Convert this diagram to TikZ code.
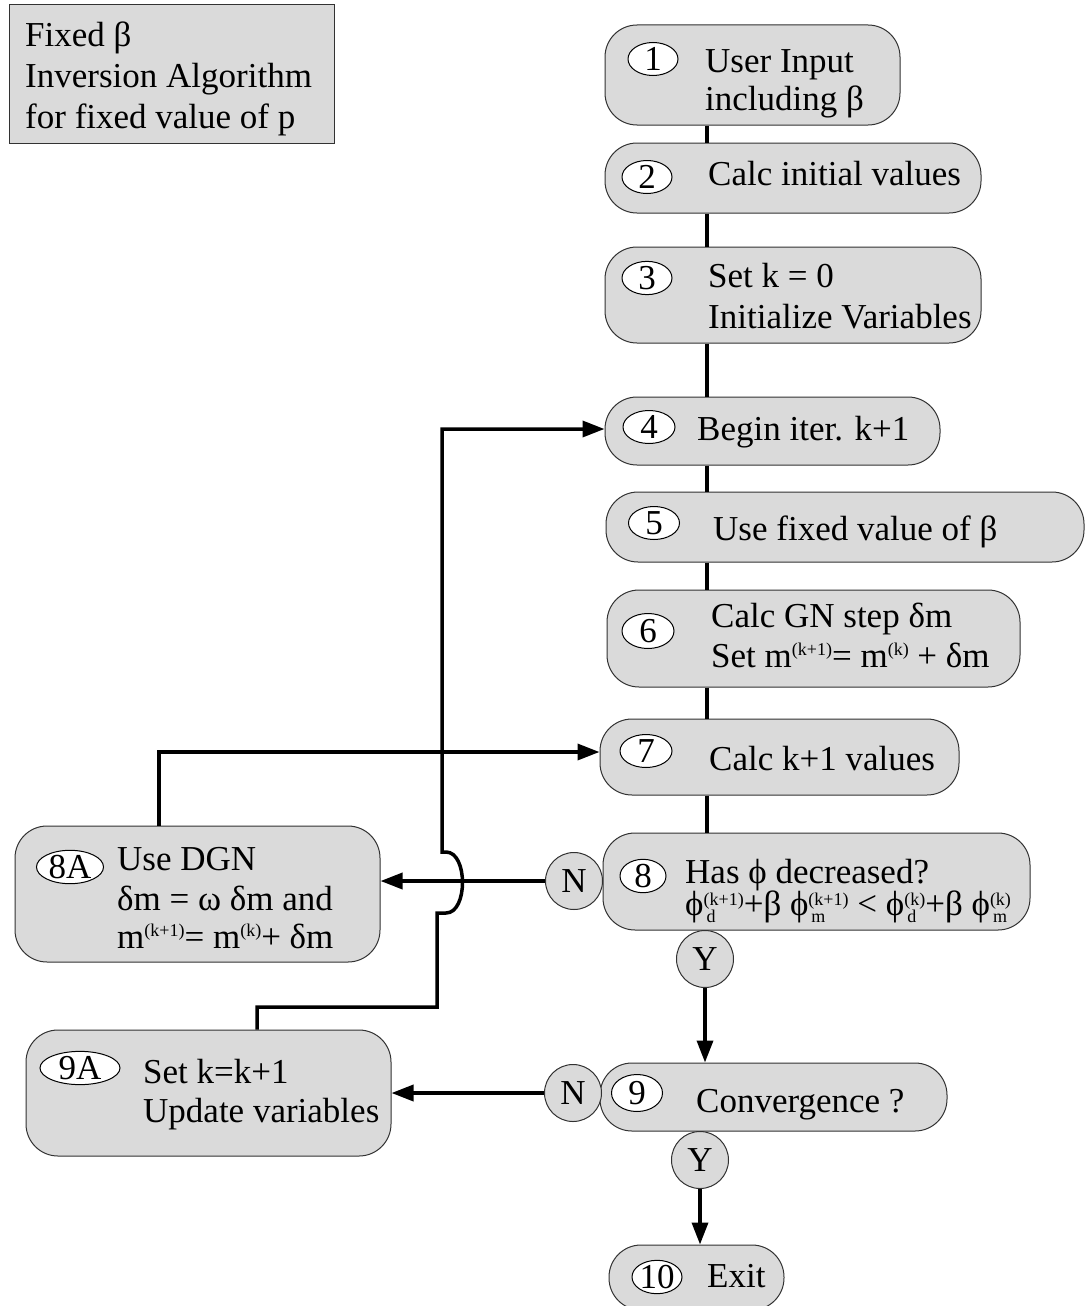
\documentclass[tikz,border=0pt]{standalone}
\usepackage{fontspec}
\setmainfont{Liberation Serif}
\usetikzlibrary{arrows.meta,shapes.geometric}
\definecolor{boxgray}{RGB}{218,218,218}
\definecolor{edgegray}{RGB}{50,50,50}
\newcommand{\smf}[1]{{\fontsize{18}{18}\selectfont #1}}
\newcommand{\sps}[1]{\raisebox{12pt}{\smf{#1}}}
\newcommand{\spsb}[2]{\makebox[0pt][l]{\hspace{3pt}\raisebox{-7pt}{\smf{#2}}}\raisebox{10pt}{\smf{#1}}}
\begin{document}
\begin{tikzpicture}[x=1pt,y=-1pt,
  every node/.style={font=\fontsize{35}{40}\selectfont},
  box/.style={draw=edgegray, fill=boxgray, line width=1pt, rounded corners=32pt, inner sep=0pt},
  titlebox/.style={draw=edgegray, fill=boxgray, line width=1pt, inner sep=0pt},
  tag/.style={ellipse, draw=black, fill=white, line width=1pt, inner sep=0pt},
  yn/.style={circle, draw=edgegray, fill=boxgray, line width=1pt, inner sep=0pt, minimum size=57pt},
  txt/.style={anchor=base west, inner sep=0pt},
  conn/.style={line width=3.5pt},
  arr/.style={line width=3.5pt, -{Triangle[length=22pt,width=16pt]}}]
\fill[white] (0,0) rectangle (1085,1306);
\useasboundingbox (0,0) rectangle (1085,1306);

% title
\node[titlebox, minimum width=325pt, minimum height=138pt] (title) at (171.5,74) {};
\node[txt] (ta) at (25,47) {Fixed β};
\node[txt] (tb) at (25,88) {Inversion Algorithm};
\node[txt] (tc) at (25,128) {for fixed value of p};

% boxes
\node[box, minimum width=295pt, minimum height=100pt] (b1) at (752.5,75) {};
\node[box, minimum width=376pt, minimum height=70pt] (b2) at (793,178) {};
\node[box, minimum width=376pt, minimum height=96pt] (b3) at (793,295) {};
\node[box, minimum width=335pt, minimum height=68pt] (b4) at (772.5,431) {};
\node[box, minimum width=478pt, minimum height=70pt] (b5) at (845,527) {};
\node[box, minimum width=413pt, minimum height=97pt] (b6) at (813.5,638.5) {};
\node[box, minimum width=359pt, minimum height=76pt] (b7) at (779.5,757) {};
\node[box, minimum width=427pt, minimum height=97pt] (b8) at (816.5,881.5) {};
\node[box, minimum width=365pt, minimum height=136pt] (b8A) at (197.5,894) {};
\node[box, minimum width=347pt, minimum height=68pt] (b9) at (773.5,1097) {};
\node[box, minimum width=365pt, minimum height=126pt] (b9A) at (208.5,1093) {};
\node[box, minimum width=175pt, minimum height=65pt] (b10) at (696.5,1277.5) {};

% tags
\node[tag, minimum width=50pt, minimum height=33pt] (e1) at (653,59) {1};
\node[tag, minimum width=50pt, minimum height=33pt] (e2) at (647,177) {2};
\node[tag, minimum width=50pt, minimum height=33pt] (e3) at (647,278) {3};
\node[tag, minimum width=52pt, minimum height=33pt] (e4) at (649,427) {4};
\node[tag, minimum width=51pt, minimum height=33pt] (e5) at (654,523) {5};
\node[tag, minimum width=52pt, minimum height=35pt] (e6) at (648,631) {6};
\node[tag, minimum width=52pt, minimum height=33pt] (e7) at (646,751) {7};
\node[tag, minimum width=46pt, minimum height=33pt] (e8) at (643,876) {8};
\node[tag, minimum width=67pt, minimum height=30pt] (e8A) at (70,867) {8A};
\node[tag, minimum width=51pt, minimum height=37pt] (e9) at (637,1093) {9};
\node[tag, minimum width=80pt, minimum height=30pt] (e9A) at (80,1068) {9A};
\node[tag, minimum width=50pt, minimum height=33pt] (e10) at (657,1277) {10};

% texts
\node[txt] (t1a) at (705,72) {User Input};
\node[txt] (t1b) at (705,110) {including β};
\node[txt] (t2) at (708,185) {Calc initial values};
\node[txt] (t3a) at (708,287) {Set k = 0};
\node[txt] (t3b) at (708,328) {Initialize Variables};
\node[txt] (t4) at (697,440) {Begin iter. k+1};
\node[txt] (t5) at (713,540) {Use fixed value of β};
\node[txt] (t6a) at (711,627) {Calc GN step δm};
\node[txt] (t6b) at (711,667) {Set m\sps{(k+1)}= m\sps{(k)} + δm};
\node[txt] (t7) at (709,770) {Calc k+1 values};
\node[txt] (t8a) at (685,883) {Has ϕ decreased?};
\node[txt] (t8b) at (685,915) {ϕ\spsb{(k+1)}{d}+β ϕ\spsb{(k+1)}{m} < ϕ\spsb{(k)}{d}+β ϕ\spsb{(k)}{m}};
\node[txt] (t8Aa) at (117,870) {Use DGN};
\node[txt] (t8Ab) at (117,910) {δm = ω δm and};
\node[txt] (t8Ac) at (117,948) {m\sps{(k+1)}= m\sps{(k)}+ δm};
\node[txt] (t9) at (696,1112) {Convergence ?};
\node[txt] (t9Aa) at (143,1083) {Set k=k+1};
\node[txt] (t9Ab) at (143,1122) {Update variables};
\node[txt] (t10) at (707,1287) {Exit};

% yes / no
\node[yn] (N8) at (574,881) {N};
\node[yn] (Y8) at (705,959) {Y};
\node[yn] (N9) at (573,1093) {N};
\node[yn] (Y9) at (700,1160) {Y};

% connectors
\coordinate (spine) at (707,0);
\coordinate (k8) at (159,0);
\coordinate (k9) at (257,0);
\draw[conn] (b1.south -| spine) -- (b2.north -| spine);
\draw[conn] (b2.south -| spine) -- (b3.north -| spine);
\draw[conn] (b3.south -| spine) -- (b4.north -| spine);
\draw[conn] (b4.south -| spine) -- (b5.north -| spine);
\draw[conn] (b5.south -| spine) -- (b6.north -| spine);
\draw[conn] (b6.south -| spine) -- (b7.north -| spine);
\draw[conn] (b7.south -| spine) -- (b8.north -| spine);
\draw[arr] (Y8.south) -- (Y8.south |- b9.north);
\draw[arr] (Y9.south) -- (Y9.south |- b10.north);
\draw[arr] (N8.west) -- (N8.west -| b8A.east);
\draw[arr] (N9.west) -- (N9.west -| b9A.east);
\draw[arr] (b8A.north -| k8) |- ([yshift=5pt]b7.west);
\draw[arr] (b9A.north -| k9) -- (257,1007) -- (437,1007) -- (437,913) -- (446,913)
  .. controls (468,913) and (468,852) .. (446,852) -- (442,852) |- ([yshift=2pt]b4.west);
\end{tikzpicture}
\end{document}
